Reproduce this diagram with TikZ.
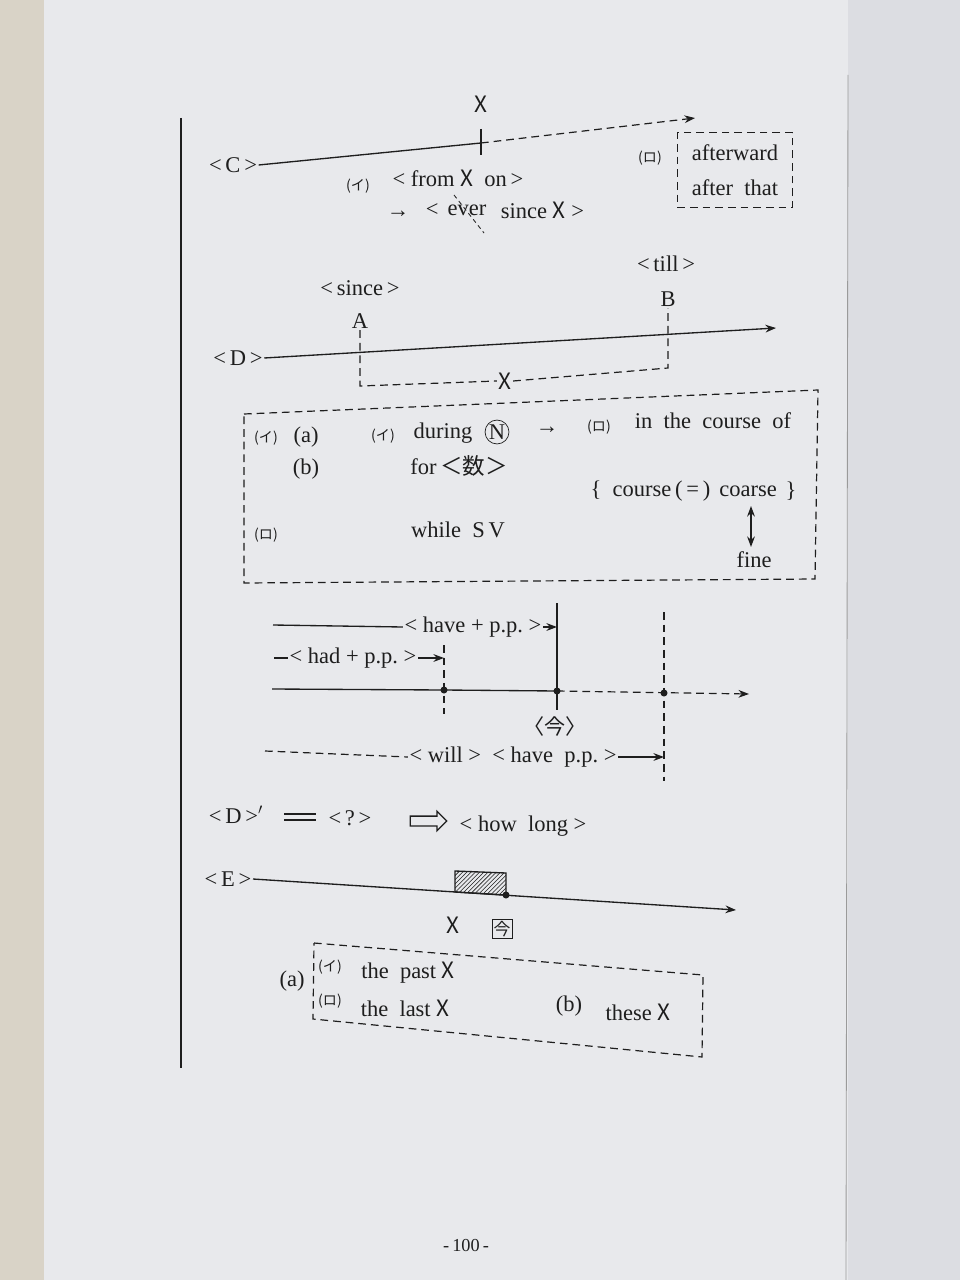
\documentclass[tikz,border=0pt]{standalone}
\usepackage{fontspec}
\setmainfont{Liberation Serif}
\newfontfamily\jp{Noto Sans CJK JP}
\usetikzlibrary{arrows.meta,patterns,shapes.arrows}
\definecolor{papel}{HTML}{E8E9EC}
\definecolor{papel2}{HTML}{DCDDE2}
\definecolor{canto}{HTML}{D9D3C7}
\definecolor{tinta}{HTML}{1E1E1E}
\tikzset{t/.style={font=\fontsize{16}{19}\selectfont,text=tinta,inner sep=1pt},
         k/.style={font=\jp\fontsize{10}{10}\selectfont,text=tinta,inner sep=1pt},
         ln/.style={draw=tinta,line width=.95pt},
         dsh/.style={draw=tinta,line width=.85pt,dash pattern=on 5.5pt off 3.5pt},
         pt/.style={circle,fill=tinta,minimum size=5pt,inner sep=0},
         >={Stealth[length=7.5pt,width=5.5pt]}}
\newcommand{\ex}{{\jp X}}

\begin{document}
\begin{tikzpicture}[x=0.025cm,y=-0.025cm]
  \useasboundingbox (0,0) rectangle (960,1280);
  \fill[papel] (0,0) rectangle (960,1280);
  \fill[canto] (0,0) rectangle (44,1280);
  \fill[papel2] (848,0) rectangle (960,1280);
  \draw[tinta!45,line width=.6pt] (848,75) -- (846,1280);
  \draw[ln] (181,118) -- (181,1068);

  % <C>
  \node[t] (cl) at (233,165) {<\,C\,>};
  \coordinate (cx) at (481,143);
  \coordinate (ce) at (695,118);
  \node[t] (xc) at (481,104) {\ex};
  \draw[ln] (cl.east) -- (cx);
  \draw[ln] (cx) ++(0,-14) -- ++(0,26);
  \draw[dsh,->] (cx) -- (ce);
  \node[k] at (358,186) {(イ)};
  \node[t] at (458,178) {<\ from\ \ex\ \ on\,>};
  \node[t] (ar) at (398,214) {→};
  \node[t] (ev) at (467,210) {ever};
  \node[t,anchor=east] at (ev.west) {<\ \ };
  \node[t,anchor=west] at (ev.east) {\ \ since\ \ex\ >};
  \draw[dsh,line width=.6pt,dash pattern=on 3pt off 2.5pt] (454,195) -- (484,233);
  \node[k] at (650,158) {(ロ)};
  \node[t,draw=tinta,dsh,align=center,minimum width=82pt,minimum height=53pt]
    (aft) at (735,170) {afterward\\[6pt]after\ \ that};

  % <D>
  \node[t] (dl) at (238,358) {<\,D\,>};
  \node[t] (A) at (360,321) {A};
  \node[t] (B) at (668,299) {B};
  \node[t] at (360,288) {<\,since\,>};
  \node[t] at (666,264) {<\,till\,>};
  \draw[ln,->] (dl.east) -- (776,328);
  \coordinate (a1) at (360,386);
  \coordinate (b1) at (668,368);
  \node[t] (dx) at (505,381) {\ex};
  \draw[dsh] (A.south) -- (a1) -- (dx.west);
  \draw[dsh] (dx.east) -- (b1) -- (B.south);

  \draw[dsh] (244,414) -- (818,390) -- (815,579) -- (244,583) -- cycle;
  \node[k] at (266,438) {(イ)};
  \node[t] at (306,437) {(a)};
  \node[k] at (383,436) {(イ)};
  \node[t] (dur) at (443,433) {during};
  \node[t,draw=tinta,circle,inner sep=.5pt,line width=.5pt] at (497,432) {N};
  \node[t] at (547,430) {→};
  \node[k] at (599,427) {(ロ)};
  \node[t] at (713,421) {in\ \ the\ \ course\ \ of};
  \node[t] at (306,469) {(b)};
  \node[t] at (459,466) {for\,{\jp ＜数＞}};
  \node[t] (crs) at (748,491) {coarse};
  \node[t,anchor=east] at (crs.west) {\{\ \ course\,(\,=\,)\ \ };
  \node[t,anchor=west] at (crs.east) {\ \}};
  \node[t] (fine) at (754,560) {fine};
  \draw[ln,<->] (751,506) -- (751,547);
  \node[k] at (266,535) {(ロ)};
  \node[t] at (458,530) {while\ \ S\,V};

  % tenses
  \coordinate (n0) at (272,689);
  \coordinate (p1) at (444,690);
  \coordinate (nw) at (557,691);
  \coordinate (f1) at (664,693);
  \coordinate (n9) at (749,694);
  \draw[ln] (n0) -- (p1) -- (nw);
  \draw[dsh,->] (nw) -- (n9);
  \draw[ln] (557,603) -- (557,710);
  \draw[dsh] (444,645) -- (444,714);
  \draw[dsh] (664,612) -- (664,781);
  \foreach \p in {p1,nw,f1} \node[pt] at (\p) {};
  \node[t] (hv) at (473,627) {<\ have\ +\ p.p.\ >};
  \draw[ln] (273,625) -- (hv.west);
  \draw[ln,->] (hv.east) -- (nw |- hv);
  \node[t] (hd) at (353,658) {<\ had\ +\ p.p.\ >};
  \draw[ln] (274,658) -- (hd.west);
  \draw[ln,->] (hd.east) -- (p1 |- hd);
  \node[t,font=\jp\fontsize{15}{18}\selectfont] at (555,726) {〈今〉};
  \node[t] (wl) at (513,757) {<\ will\ >\ \ <\ have\ \ p.p.\ >};
  \draw[dsh] (265,751) -- (wl.west);
  \draw[ln,->] (wl.east) -- (f1 |- wl);

  % <D>'
  \node[t] (dp) at (236,815) {<\,D\,>$'$};
  \draw[ln] (284,814) -- (316,814) (284,820) -- (316,820);
  \node[t] (q) at (350,818) {<\,?\,>};
  \node[single arrow,draw=tinta,line width=.9pt,minimum height=26pt,minimum width=14pt,
        single arrow head extend=3.5pt,inner sep=3pt] (ha) at (426,821) {};
  \node[t] at (523,826) {<\ how\ \ long\ >};

  % <E>
  \node[t] (el) at (228,879) {<\,E\,>};
  \draw[ln,->] (el.east) -- (736,910);
  \coordinate (e1) at (506,895);
  \draw[ln,pattern=north east lines,pattern color=tinta] (455,871) -- (506,873) -- (e1) -- (455,892) -- cycle;
  \node[pt] at (e1) {};
  \node[t] at (453,925) {\ex};
  \node[t,draw=tinta,line width=.5pt,inner sep=1pt,font=\jp\fontsize{12}{12}\selectfont] at (502,929) {今};

  \draw[dsh] (314,943) -- (703,975) -- (702,1057) -- (313,1019) -- cycle;
  \node[t] at (292,981) {(a)};
  \node[k] at (330,967) {(イ)};
  \node[t] at (408,973) {the\ \ past\ \ex};
  \node[k] at (330,1001) {(ロ)};
  \node[t] at (405,1008) {the\ \ last\ \ex};
  \node[t] at (569,1006) {(b)};
  \node[t] at (638,1012) {these\ \ex};

  \node[t,font=\fontsize{13}{15}\selectfont] at (466,1245) {-\,100\,-};
\end{tikzpicture}
\end{document}
